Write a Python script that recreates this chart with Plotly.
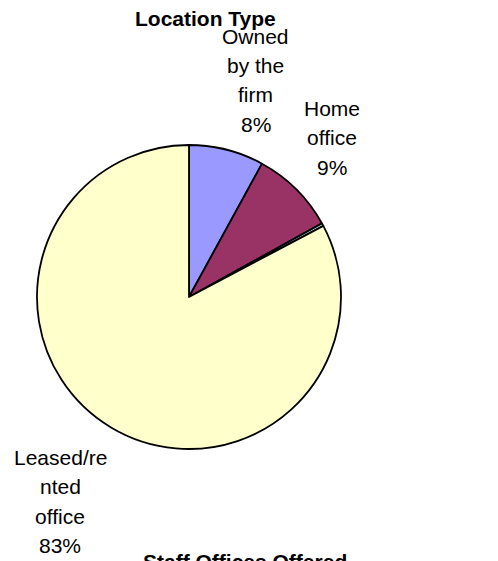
import plotly.graph_objects as go

# Location type shares (percent)
categories = ["Owned by the firm", "Home office", "Other", "Leased/rented office"]
values = [8, 9, 0.3, 83]
label_lines = [["Owned", "by the", "firm"], ["Home", "office"], [], ["Leased/re", "nted", "office"]]
colors = ["#9999FF", "#993366", "#CCFFFF", "#FFFFCC"]

W, H = 498, 561
cx, cy, r = 189, 297, 152

fig = go.Figure(go.Pie(
    labels=categories,
    values=values,
    sort=False,
    direction="clockwise",
    rotation=0,
    textinfo="none",
    hoverinfo="label+percent",
    marker=dict(colors=colors, line=dict(color="black", width=1.8)),
    domain=dict(x=[(cx - r) / W, (cx + r) / W],
                y=[(H - cy - r) / H, (H - cy + r) / H]),
    showlegend=False,
))

def px(x, y):
    return x / W, (H - y) / H

font = dict(family="Liberation Sans, Arial, sans-serif", size=21, color="black")
line_gap = 29.5
# label anchor (centre x, first-line y) in pixels
anchors = [(256, 36), (332, 108), None, (60, 457)]
total = sum(values)
for lines, val, anc in zip(label_lines, values, anchors):
    if anc is None:
        continue
    pct = f"{round(val / total * 100)}%"
    for i, t in enumerate(lines + [pct]):
        x, y = px(anc[0], anc[1] + i * line_gap)
        fig.add_annotation(x=x, y=y, xref="paper", yref="paper", text=t,
                           showarrow=False, xanchor="center", yanchor="middle",
                           font=font)

bold = dict(family="Liberation Sans, Arial, sans-serif", size=21, color="black")
x, y = px(205, 18)
fig.add_annotation(x=x, y=y, xref="paper", yref="paper", text="<b>Location Type</b>",
                   showarrow=False, xanchor="center", yanchor="middle", font=bold)
x, y = px(245, 561)
fig.add_annotation(x=x, y=y, xref="paper", yref="paper", text="<b>Staff Offices Offered</b>",
                   showarrow=False, xanchor="center", yanchor="middle", font=bold)

fig.update_layout(width=W, height=H, margin=dict(l=0, r=0, t=0, b=0),
                  paper_bgcolor="white", plot_bgcolor="white")
fig.write_html("out.html")
